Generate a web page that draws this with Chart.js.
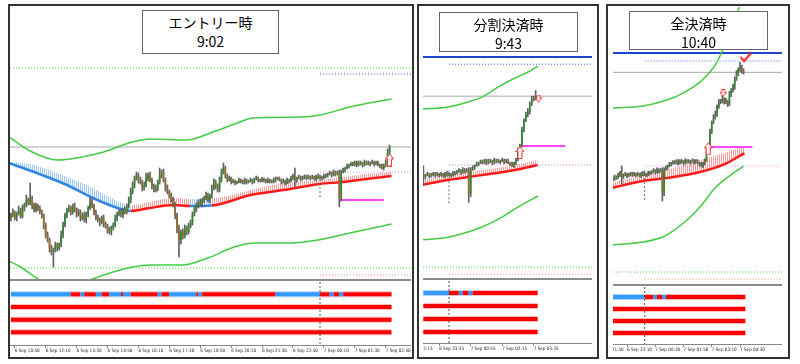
<!DOCTYPE html>
<html>
<head>
<meta charset="utf-8">
<script src="https://cdn.jsdelivr.net/npm/chart.js@4.4.0/dist/chart.umd.min.js"></script>
<style>
    html, body { margin: 0; padding: 0; background: #fff; }
    body { width: 800px; height: 364px; position: relative; overflow: hidden; font-family: "Noto Sans CJK JP", "Noto Sans", sans-serif; }
    .frame { position: absolute; border: 2px solid #333; box-sizing: border-box; }
    .sep { position: absolute; height: 2px; background: #8c8c8c; }
    canvas { position: absolute; display: block; }
    .title { position: absolute; background: #fff; border: 1px solid #666; box-sizing: border-box; text-align: center; color: #000; font-size: 14px; line-height: 19px; padding-top: 2px; }
</style>
</head>
<body>
<script>
// 5-minute bars, index 0 = 6 Sep 10:40 (server time)
const barStart = { day: 6, hour: 10, minute: 40 };
const firstOpen = 62;

// closes in points (chart has no price axis)
const closes = [
    65, 68, 62, 66, 70, 64, 72, 75, 80, 77,
    82, 74, 70, 75, 72, 68, 65, 55, 45, 40,
    32, 28, 30, 35, 32, 35, 45, 55, 65, 70,
    72, 68, 74, 70, 66, 68, 62, 65, 60, 66,
    72, 78, 74, 68, 62, 60, 58, 62, 56, 54,
    50, 48, 52, 55, 62, 66, 68, 65, 70, 68,
    74, 80, 88, 95, 102, 105, 100, 98, 92, 95,
    102, 105, 100, 94, 90, 92, 98, 105, 108, 100,
    92, 88, 85, 80, 76, 65, 52, 40, 48, 44,
    52, 48, 54, 58, 66, 70, 75, 78, 76, 80,
    82, 85, 80, 84, 92, 98, 94, 90, 100, 108,
    112, 105, 100, 102, 98, 99, 97, 98, 100, 99,
    97, 100, 98, 99, 100, 98, 101, 102, 100, 99,
    101, 100, 98, 100, 99, 98, 100, 102, 101, 100,
    98, 99, 97, 100, 99, 102, 104, 100, 102, 103,
    101, 102, 104, 102, 103, 102, 103, 101, 104, 102,
    103, 102, 104, 105, 106, 107, 105, 108, 106, 107,
    82, 108, 110, 112, 114, 115, 116, 117, 115, 118,
    116, 117, 115, 118, 117, 116, 117, 118, 116, 117,
    115, 114, 112, 115, 118, 127, 133, 150, 160, 166,
    170, 178, 183, 184, 186, 184, 183, 181, 192, 196,
    200, 209, 215, 219, 222, 218, 216
];
const wickUp = [
    2, 3, 1, 2, 4, 2, 3, 2, 5, 2,
    15, 2, 3, 2, 1, 2, 2, 1, 2, 3,
    2, 3, 2, 3, 2, 2, 4, 3, 2, 2,
    3, 2, 2, 3, 2, 3, 2, 2, 3, 2,
    2, 4, 3, 2, 2, 3, 2, 2, 3, 2,
    2, 3, 2, 2, 3, 2, 2, 3, 2, 3,
    2, 3, 4, 3, 2, 3, 2, 3, 2, 3,
    5, 2, 3, 2, 2, 3, 2, 7, 2, 3,
    2, 3, 2, 2, 3, 2, 2, 3, 2, 3,
    3, 2, 3, 2, 2, 3, 2, 2, 3, 2,
    2, 3, 2, 2, 3, 3, 2, 2, 3, 3,
    5, 2, 1, 2, 1, 2, 1, 1, 2, 1,
    1, 2, 1, 1, 2, 1, 1, 2, 1, 1,
    2, 1, 1, 2, 1, 1, 2, 1, 1, 2,
    1, 2, 1, 2, 1, 2, 2, 8, 1, 2,
    1, 2, 1, 1, 2, 1, 2, 1, 1, 2,
    2, 1, 2, 1, 1, 2, 1, 2, 1, 2,
    3, 2, 2, 1, 2, 1, 2, 1, 2, 1,
    1, 2, 1, 2, 1, 2, 1, 2, 1, 2,
    2, 1, 2, 1, 2, 4, 2, 3, 2, 3,
    3, 2, 3, 2, 6, 2, 3, 2, 3, 2,
    3, 2, 3, 2, 5, 2, 2
];
const wickDn = [
    3, 2, 2, 3, 1, 2, 2, 3, 2, 2,
    2, 3, 2, 2, 3, 2, 3, 4, 3, 2,
    4, 3, 15, 2, 3, 2, 2, 3, 2, 3,
    2, 3, 2, 2, 3, 2, 3, 2, 2, 3,
    3, 2, 2, 3, 2, 2, 4, 2, 3, 2,
    3, 2, 3, 2, 2, 3, 2, 2, 3, 2,
    2, 2, 3, 2, 3, 2, 3, 2, 3, 2,
    2, 3, 2, 3, 2, 2, 3, 2, 3, 2,
    3, 2, 3, 2, 3, 4, 5, 17, 4, 3,
    2, 3, 2, 2, 3, 2, 2, 3, 2, 3,
    3, 2, 2, 3, 2, 2, 3, 2, 2, 2,
    2, 3, 2, 1, 2, 1, 2, 1, 1, 2,
    1, 1, 2, 1, 1, 2, 1, 1, 2, 1,
    1, 2, 1, 1, 2, 1, 1, 2, 1, 1,
    2, 1, 2, 1, 2, 1, 2, 8, 2, 1,
    2, 1, 1, 2, 1, 2, 1, 1, 2, 1,
    1, 2, 1, 2, 2, 1, 2, 1, 2, 1,
    9, 3, 1, 2, 1, 2, 1, 2, 1, 2,
    2, 1, 2, 1, 2, 1, 2, 1, 2, 1,
    1, 2, 1, 2, 2, 1, 2, 1, 2, 1,
    2, 3, 2, 2, 2, 3, 2, 3, 2, 3,
    2, 3, 2, 3, 2, 3, 2
];

// top row of the sub window: b = blue, r = red, as [state, bars]
const trendRuns = [
    ['b', 31], ['r', 5], ['b', 2], ['r', 6], ['b', 3], ['r', 4], ['b', 6], ['r', 1],
    ['b', 4], ['r', 14], ['b', 2], ['r', 4], ['b', 14], ['r', 1], ['b', 2], ['r', 38],
    ['b', 23], ['r', 5], ['b', 2], ['r', 3], ['b', 2], ['r', 45]
];

const panelTitles = [['エントリー時', '9:02'], ['分割決済時', '9:43'], ['全決済時', '10:40']];
const panelTicks = [
    ['6 Sep 10:50', '6 Sep 12:10', '6 Sep 13:30', '6 Sep 14:50', '6 Sep 16:10', '6 Sep 17:30', '6 Sep 18:50',
     '6 Sep 20:10', '6 Sep 21:30', '6 Sep 22:50', '7 Sep 00:10', '7 Sep 01:30', '7 Sep 02:50'],
    ['6 Sep 22:15', '6 Sep 23:35', '7 Sep 00:55', '7 Sep 02:15', '7 Sep 03:35'],
    ['6 Sep 21:50', '6 Sep 23:10', '7 Sep 00:30', '7 Sep 01:50', '7 Sep 03:10', '7 Sep 04:30']
];
const firstBar = [0, 147, 142];
const lastBar = [196, 204, 216];
const dayStartBar = 160;

// envelope bands [bar, value]
const upperBand = [
    [[-1, 143], [11, 128], [24, 120], [46, 127], [63, 138], [72, 141], [91, 140], [104.6, 148], [118.6, 158], [125, 162], [150, 163], [160, 165], [175.5, 173], [197, 181]],
    [[146, 172.3], [159.5, 174.5], [169.6, 179.8], [176.8, 185], [184.9, 195.7], [193.5, 205.3], [200.1, 211.7], [205.2, 218]],
    [[141, 176.3], [159, 178.6], [172.6, 185.2], [181.7, 193], [191.3, 205.2], [197, 216.3], [201, 227.4], [204.4, 241.9], [210, 270], [216, 300]]
];
const lowerBand = [
    [[-1, 19], [5, 13], [15, 0], [28, -12], [41, 0], [63, 13], [72, 15], [89, 15], [102, 22], [115.5, 33], [126, 37], [145, 37], [159, 40], [175.5, 47], [197, 56]],
    [[146, 33], [159.5, 36], [169.6, 41.5], [176.8, 46.8], [186.9, 57.4], [195, 68], [205.2, 79.8]],
    [[141, 24.1], [159, 27.4], [168.7, 31.9], [174.3, 37.4], [184, 51.9], [191.3, 66.3], [199.8, 87.4], [207.2, 99.7], [216, 111.9]]
];
// moving average ribbon [bar, average, ribbon top]
const maRibbon = [
    [[-1, 117, 118], [12, 108, 115], [29, 95, 103], [42.5, 82, 92], [51, 75, 83], [62, 69, 75], [72, 72, 78], [84, 75, 82],
     [92.7, 74, 81], [104, 74.5, 81.5], [124, 85, 90], [141, 90, 97], [160, 96, 100], [172, 98, 103], [184, 101, 106], [197, 104, 108]],
    [[146, 91.5, 96.8], [159.5, 96.8, 102], [176.8, 102, 107.4], [193.5, 107.4, 112.8], [205, 112.8, 118]],
    [[141, 87.4, 93], [159, 95.2, 101.9], [172.6, 98.6, 107.4], [191.3, 105.2, 118.6], [206.6, 115.2, 127.4], [216.5, 126.3, 134.1]]
];
const maBlueSpans = [[[-1, 62], [92.7, 104]], [], []];

// horizontal levels per panel
const upperAlert = [212, null, null];
const lowerAlert = [12, 4.3, -5.9];
const targetSolid = [null, 227.7, 237.4];
const targetDotted = [206, 220, 228.6];
const dayOpenLine = [108, 112.8, 111.9];
const dayLowLine = [5, -3.2, -13.7];
const stopLine = [80, 133, 133];
const stopSpan = [[170, 193], [196, 219], [195, 221]];
const daySepSpan = [[83, 103], [72, 107], [74, 107]];

// trade marks [bar, value]
const entryMark = [[196, 120], [196, 126], [196, 131]];
const partialMark = [null, [205.5, 183.5], [204.4, 193]];
const closeMark = [null, null, [217.4, 233]];

const layout = [
    { frame: [8, 4, 406, 355], left: 10, width: 401, mainH: 273, sepTop: 279, indTop: 282, indArea: 63,
      xMin: -0.455, xMax: 207.1, vMin: 0, vMax: 273, rMin: 0.029, rMax: 5.0, title: [142, 10, 137, 44] },
    { frame: [417, 4, 182, 355], left: 423, width: 169, mainH: 272, sepTop: 278, indTop: 281, indArea: 62,
      xMin: 146.8, xMax: 232.6, vMin: -8.51, vMax: 280.85, rMin: 0.077, rMax: 4.846, title: [439, 12, 139, 40] },
    { frame: [606, 4, 184, 355], left: 613, width: 169, mainH: 278, sepTop: 284, indTop: 287, indArea: 57,
      xMin: 142.07, xMax: 237.77, vMin: -20.3, vMax: 288.6, rMin: 0.167, rMax: 4.917, title: [629, 11, 139, 39] }
];

const bullColor = '#2d8a2d';
const bearColor = '#9a6a2a';
const wickColor = '#606060';
const bandColor = '#44cc44';
const blueInd = '#3399ff';
const redInd = '#ff0000';
const tickFont = { size: 4.6, family: '"DejaVu Sans Condensed", "Liberation Sans Narrow", sans-serif' };

const trendStates = [];
trendRuns.forEach(function (run) {
    for (let k = 0; k < run[1]; k++) trendStates.push(run[0]);
});

function timeToBar(label) {
    const m = label.match(/(\d+) Sep (\d+):(\d+)/);
    const mins = (Number(m[1]) - barStart.day) * 1440 + Number(m[2]) * 60 + Number(m[3]) - (barStart.hour * 60 + barStart.minute);
    return mins / 5;
}

function makeMark(w, h, draw) {
    const c = document.createElement('canvas');
    c.width = w;
    c.height = h;
    draw(c.getContext('2d'));
    return c;
}
const arrowUp = makeMark(9, 13, function (g) {
    g.beginPath();
    g.moveTo(4.5, 0.5); g.lineTo(8.5, 5.5); g.lineTo(6.5, 5.5); g.lineTo(6.5, 12.5);
    g.lineTo(2.5, 12.5); g.lineTo(2.5, 5.5); g.lineTo(0.5, 5.5); g.closePath();
    g.fillStyle = '#fff'; g.fill();
    g.strokeStyle = '#ff2a2a'; g.lineWidth = 1; g.stroke();
});
const arrowSmall = makeMark(7, 8, function (g) {
    g.beginPath();
    g.moveTo(2, 0.5); g.lineTo(5, 0.5); g.lineTo(5, 3.5); g.lineTo(6.5, 3.5);
    g.lineTo(3.5, 7.5); g.lineTo(0.5, 3.5); g.lineTo(2, 3.5); g.closePath();
    g.fillStyle = '#fff'; g.fill();
    g.strokeStyle = '#ff3030'; g.lineWidth = 1; g.stroke();
});
const checkMark = makeMark(13, 11, function (g) {
    g.beginPath();
    g.moveTo(1, 5.5); g.lineTo(4.5, 9.5); g.lineTo(12, 1);
    g.strokeStyle = '#ee1c1c'; g.lineWidth = 2; g.stroke();
});

function hatch(color) {
    const c = document.createElement('canvas');
    c.width = 2;
    c.height = 1;
    const g = c.getContext('2d');
    g.fillStyle = color;
    g.fillRect(0, 0, 1, 1);
    return g.createPattern(c, 'repeat');
}
const blueHatch = hatch('#9cc8f4');
const redHatch = hatch('#ff9c9c');

function pts(list, k) {
    return list.map(function (p) { return { x: p[0], y: p[k || 1] }; });
}

function hLine(value, from, to, color, width, dash, order) {
    return {
        type: 'line',
        data: [{ x: from, y: value }, { x: to, y: value }],
        borderColor: color, borderWidth: width, borderDash: dash,
        pointRadius: 0, fill: false, order: order
    };
}

function markSet(point, style) {
    return {
        type: 'line', showLine: false,
        data: [{ x: point[0], y: point[1] }],
        pointStyle: style, pointRadius: 6, order: -2
    };
}

function mainDatasets(p) {
    const L = layout[p];
    const bodies = [], wicks = [], colors = [];
    for (let i = firstBar[p]; i <= lastBar[p]; i++) {
        const o = i === 0 ? firstOpen : closes[i - 1];
        const c = closes[i];
        bodies.push({ x: i, y: [o, c] });
        wicks.push({ x: i, y: [Math.min(o, c) - wickDn[i], Math.max(o, c) + wickUp[i]] });
        colors.push(c >= o ? bullColor : bearColor);
    }
    const isBlue = function (x0, x1) {
        const mid = (x0 + x1) / 2;
        return maBlueSpans[p].some(function (s) { return mid >= s[0] && mid <= s[1]; });
    };
    const sets = [
        {
            type: 'bar', data: bodies, backgroundColor: colors, order: 0, grouped: false,
            barPercentage: 0.8, categoryPercentage: 1, maxBarThickness: 2, minBarLength: 1
        },
        {
            type: 'bar', data: wicks, backgroundColor: wickColor, order: 1, grouped: false,
            barPercentage: 1, categoryPercentage: 1, maxBarThickness: 1
        },
        {
            type: 'line', data: pts(maRibbon[p], 2), borderWidth: 0, pointRadius: 0,
            cubicInterpolationMode: 'monotone', fill: '+1', backgroundColor: redHatch, order: 5,
            segment: { backgroundColor: function (c) { return isBlue(c.p0.parsed.x, c.p1.parsed.x) ? blueHatch : redHatch; } }
        },
        {
            type: 'line', data: pts(maRibbon[p], 1), borderWidth: 2.5, pointRadius: 0, borderColor: '#ff1a1a',
            cubicInterpolationMode: 'monotone', fill: false, order: 4,
            segment: { borderColor: function (c) { return isBlue(c.p0.parsed.x, c.p1.parsed.x) ? '#2f86e6' : '#ff1a1a'; } }
        },
        {
            type: 'line', data: pts(upperBand[p]), borderColor: bandColor, borderWidth: 1.5, pointRadius: 0,
            cubicInterpolationMode: 'monotone', fill: false, order: 6
        },
        {
            type: 'line', data: pts(lowerBand[p]), borderColor: bandColor, borderWidth: 1.5, pointRadius: 0,
            cubicInterpolationMode: 'monotone', fill: false, order: 6
        },
        hLine(closes[lastBar[p]], L.xMin, L.xMax, '#a8a8a8', 1, [], 7),
        hLine(dayOpenLine[p], dayStartBar, L.xMax, '#f08cf0', 1, [1, 2], 7),
        hLine(dayLowLine[p], dayStartBar, L.xMax, '#ff9090', 1, [1, 2], 7),
        hLine(lowerAlert[p], L.xMin, L.xMax, '#44dd44', 1, [1, 2], 7),
        hLine(targetDotted[p], dayStartBar, L.xMax, '#4060ff', 1, [1, 2], 7),
        hLine(stopLine[p], stopSpan[p][0], stopSpan[p][1], '#ff44ff', 2, [], 3),
        {
            type: 'line', data: [{ x: dayStartBar, y: daySepSpan[p][0] }, { x: dayStartBar, y: daySepSpan[p][1] }],
            borderColor: '#666', borderWidth: 1, borderDash: [2, 2], pointRadius: 0, fill: false, order: 2
        },
        markSet(entryMark[p], arrowUp)
    ];
    if (upperAlert[p] !== null) sets.push(hLine(upperAlert[p], L.xMin, L.xMax, '#44dd44', 1, [1, 2], 7));
    if (targetSolid[p] !== null) sets.push(hLine(targetSolid[p], L.xMin, L.xMax, '#2244cc', 2, [], 7));
    if (partialMark[p]) sets.push(markSet(partialMark[p], arrowSmall));
    if (closeMark[p]) sets.push(markSet(closeMark[p], checkMark));
    return sets;
}

function subDatasets(p) {
    const L = layout[p];
    const sets = [];
    for (let row = 1; row <= 4; row++) {
        const data = [];
        for (let i = firstBar[p]; i <= lastBar[p] + 1; i++) data.push({ x: i, y: row });
        const pick = function (c, blue, red) {
            return row === 1 && trendStates[c.p0.parsed.x] === 'b' ? blue : red;
        };
        sets.push({
            type: 'line', data: data, borderWidth: 4, pointRadius: 0, fill: false, order: 1, borderColor: redInd,
            segment: { borderColor: function (c) { return pick(c, blueInd, redInd); } }
        });
        sets.push({
            type: 'line', data: data, borderWidth: 6, pointRadius: 0, fill: false, order: 2, borderColor: '#ffbcbc',
            segment: { borderColor: function (c) { return pick(c, '#b0d8ff', '#ffbcbc'); } }
        });
    }
    sets.push({
        type: 'line', data: [{ x: dayStartBar, y: L.rMin }, { x: dayStartBar, y: L.rMax }],
        borderColor: '#555', borderWidth: 1, borderDash: [2, 2], pointRadius: 0, fill: false, order: 0
    });
    return sets;
}

function baseOptions() {
    return {
        responsive: false,
        animation: false,
        events: [],
        layout: { padding: 0, autoPadding: false },
        plugins: { legend: { display: false }, tooltip: { enabled: false } }
    };
}

function addBox(cls, x, y, w, h) {
    const d = document.createElement('div');
    d.className = cls;
    d.style.left = x + 'px';
    d.style.top = y + 'px';
    d.style.width = w + 'px';
    if (h !== null) d.style.height = h + 'px';
    document.body.appendChild(d);
    return d;
}

function addCanvas(x, y, w, h) {
    const c = document.createElement('canvas');
    c.width = w;
    c.height = h;
    c.style.left = x + 'px';
    c.style.top = y + 'px';
    document.body.appendChild(c);
    return c;
}

layout.forEach(function (L, p) {
    addBox('frame', L.frame[0], L.frame[1], L.frame[2], L.frame[3]);

    const main = addCanvas(L.left, 7, L.width, L.mainH);
    const mainOpts = baseOptions();
    mainOpts.scales = {
        x: { type: 'linear', display: false, min: L.xMin, max: L.xMax, offset: false },
        y: { type: 'linear', display: false, min: L.vMin, max: L.vMax }
    };
    new Chart(main.getContext('2d'), { type: 'line', data: { datasets: mainDatasets(p) }, options: mainOpts });

    addBox('sep', L.left, L.sepTop, L.width, null);

    const tickBars = panelTicks[p].map(timeToBar);
    const sub = addCanvas(L.left, L.indTop, L.width, L.indArea + 11);
    const subOpts = baseOptions();
    subOpts.scales = {
        x: {
            type: 'linear', min: L.xMin, max: L.xMax, offset: false, position: 'bottom',
            afterBuildTicks: function (s) { s.ticks = tickBars.map(function (v) { return { value: v }; }); },
            afterFit: function (s) { s.height = 11; s.paddingLeft = 0; s.paddingRight = 0; },
            ticks: {
                autoSkip: false, maxRotation: 0, minRotation: 0, align: 'start', padding: 0.5,
                color: '#222', font: tickFont,
                callback: function (v, idx) { return panelTicks[p][idx]; }
            },
            grid: { drawOnChartArea: false, drawTicks: true, tickLength: 3, color: '#888' },
            border: { display: true, color: '#888', width: 1 }
        },
        y: { type: 'linear', display: false, reverse: true, min: L.rMin, max: L.rMax }
    };
    new Chart(sub.getContext('2d'), { type: 'line', data: { datasets: subDatasets(p) }, options: subOpts });

    const t = addBox('title', L.title[0], L.title[1], L.title[2], L.title[3]);
    t.innerHTML = panelTitles[p][0] + '<br>' + panelTitles[p][1];
});
</script>
</body>
</html>
